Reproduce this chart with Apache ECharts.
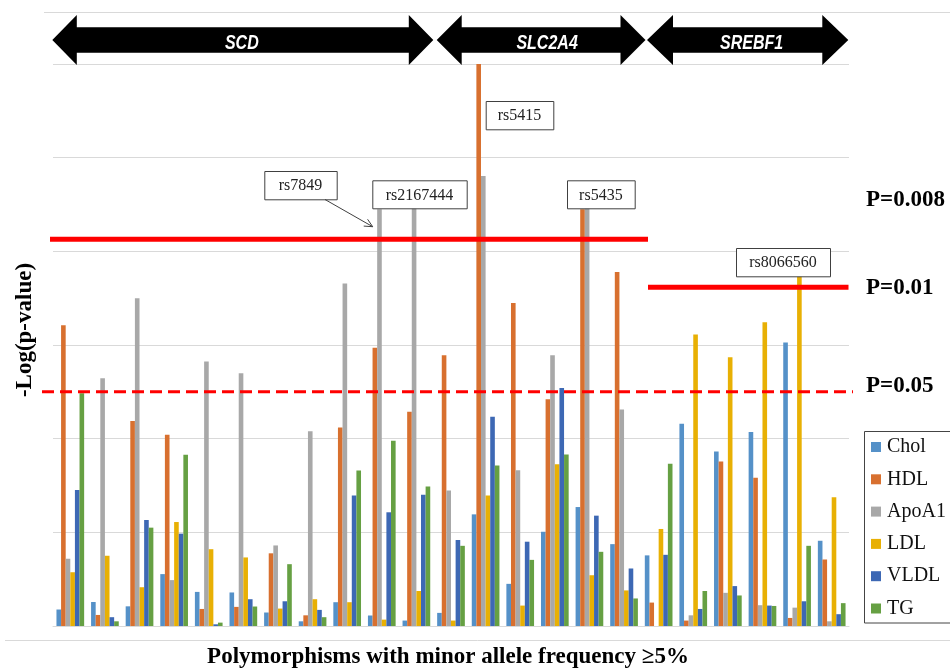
<!DOCTYPE html>
<html><head><meta charset="utf-8">
<script src="https://cdn.jsdelivr.net/npm/echarts@6/dist/echarts.min.js"></script>
<style>html,body{margin:0;padding:0;background:#fff}#c{width:950px;height:671px}</style>
</head><body><div id="c"></div>
<script>
// ---- data (y unit: one gridline = 0.5) ----
const categories = ['SNP1','SNP2','SNP3','SNP4','SNP5','SNP6','SNP7','SNP8','SNP9','rs7849','rs2167444','SNP12','rs5415','SNP14','SNP15','rs5435','SNP17','SNP18','SNP19','SNP20','SNP21','rs8066560','SNP23'];
const seriesNames = ['Chol','HDL','ApoA1','LDL','VLDL','TG'];
const chol  = [0.088,0.128,0.105,0.277,0.182,0.179,0.072,0.025,0.127,0.056,0.029,0.070,0.596,0.225,0.503,0.635,0.437,0.377,1.080,0.932,1.035,1.513,0.455];
const hdl   = [1.606,0.059,1.094,1.021,0.091,0.102,0.388,0.057,1.060,1.485,1.144,1.445,3.000,1.724,1.210,2.225,1.890,0.125,0.029,0.878,0.792,0.043,0.355];
const apoa1 = [0.359,1.322,1.749,0.245,1.412,1.349,0.430,1.039,1.828,2.225,2.232,0.723,2.402,0.832,1.445,2.232,1.156,0.000,0.057,0.177,0.111,0.098,0.025];
const ldl   = [0.287,0.375,0.207,0.555,0.410,0.366,0.093,0.143,0.127,0.034,0.187,0.029,0.696,0.109,0.864,0.271,0.190,0.518,1.556,1.435,1.622,1.872,0.687];
const vldl  = [0.726,0.047,0.566,0.493,0.009,0.143,0.132,0.086,0.696,0.607,0.700,0.459,1.117,0.450,1.271,0.589,0.307,0.380,0.091,0.213,0.109,0.132,0.063];
const tg    = [1.242,0.025,0.525,0.914,0.018,0.104,0.330,0.047,0.830,0.989,0.744,0.428,0.857,0.353,0.915,0.396,0.147,0.866,0.187,0.163,0.107,0.428,0.122];
const thresholdLabels = ['P=0.008','P=0.01','P=0.05'];
const thresholdValues = [2.065, 1.808, 1.251];
const genes = ['SCD','SLC2A4','SREBF1'];
const annotations = ['rs5415','rs7849','rs2167444','rs5435','rs8066560'];

// ---- styles / layout ----
const colors = ['#5591C8','#D8702F','#A8A8A8','#E8B004','#3D68B4','#66A043'];
const serif = '"Liberation Serif","Times New Roman",serif';
const allSeries = [chol,hdl,apoa1,ldl,vldl,tg];

const chart = echarts.init(document.getElementById('c'), null, {renderer:'canvas'});
chart.setOption({
  animation:false,
  backgroundColor:'#fff',
  color: colors,
  grid:{left:53, right:101, top:64, bottom:45, containLabel:false},
  legend:{
    orient:'vertical', left:864, top:431, padding:[6,4,6,7],
    itemWidth:10, itemHeight:10, itemGap:12.3, icon:'rect',
    borderWidth:0, backgroundColor:'transparent',
    textStyle:{fontFamily:serif, fontSize:20, color:'#111', padding:[0,0,0,1]},
    data: seriesNames
  },
  xAxis:{type:'category', data:categories, axisLabel:{show:false}, axisTick:{show:false},
    axisLine:{show:true, lineStyle:{color:'#d9d9d9', width:1}}, splitLine:{show:false}},
  yAxis:{type:'value', min:0, max:3, interval:0.5, axisLabel:{show:false}, axisTick:{show:false},
    axisLine:{show:false}, splitLine:{show:true, lineStyle:{color:'#d9d9d9', width:1}}},
  series: seriesNames.map((n,i)=>({name:n, type:'bar', data:allSeries[i], barGap:'0%', barCategoryGap:'20%', z:2}))
});

// ---- decorations ----
const g = [];
// frame lines
g.push({type:'line', shape:{x1:44,y1:12.5,x2:950,y2:12.5}, style:{stroke:'#d9d9d9', lineWidth:1}, z:1});
g.push({type:'line', shape:{x1:5,y1:640.5,x2:950,y2:640.5}, style:{stroke:'#d9d9d9', lineWidth:1}, z:1});
// legend frame (runs past the right edge, as in the reference)
g.push({type:'rect', shape:{x:864.5,y:431.5,width:110,height:191.5}, style:{fill:'none', stroke:'#444', lineWidth:1}, z:5});

// gene arrows
const geneSpans = [[52.3,433.3,24.5],[436.7,645.5,25],[647,848.3,26]];
const geneTextDx = [-1, 6, 4];
const cy = 40, hh = 25, sh = 12.7;
genes.forEach((name,i)=>{
  const [L,R,h] = geneSpans[i];
  g.push({type:'polygon', shape:{points:[[L,cy],[L+h,cy-hh],[L+h,cy-sh],[R-h,cy-sh],[R-h,cy-hh],[R,cy],[R-h,cy+hh],[R-h,cy+sh],[L+h,cy+sh],[L+h,cy+hh]]},
    style:{fill:'#000'}, z:10});
  g.push({type:'text', x:(L+R)/2+geneTextDx[i], y:cy+3, scaleY:1.28,
    style:{text:name, fill:'#fff', align:'center', verticalAlign:'middle',
    font:'italic bold 16px "Liberation Sans",Arial,sans-serif'}, z:11});
});

// threshold lines
const thrX = [[50,648],[648,848.5],[42,853]];
const thrLabelY = [200, 288, 386];
thresholdValues.forEach((v,i)=>{
  const y = chart.convertToPixel({yAxisIndex:0}, v);
  const dashed = i===2;
  g.push({type:'line', shape:{x1:thrX[i][0], y1:y, x2:thrX[i][1], y2:y},
    style:{stroke:'#FF0000', lineWidth: dashed?3:5, lineDash: dashed?[12,6]:null}, z:20});
  g.push({type:'text', x:866, y:thrLabelY[i], style:{text:thresholdLabels[i], fill:'#000', align:'left', verticalAlign:'middle',
    font:'bold 23px '+serif}, z:20});
});

// annotation boxes
const boxes = [[485.7,101,67.6,28.3],[264.3,171,72.4,28.3],[372.3,180.3,94.4,28],[567,180.3,67.7,28],[736,248,94,28.3]];
annotations.forEach((t,i)=>{
  const [x,y,w,hgt] = boxes[i];
  g.push({type:'rect', shape:{x:x+0.5,y:y+0.5,width:w,height:hgt}, style:{fill:'#fff', stroke:'#404040', lineWidth:1}, z:30});
  g.push({type:'text', x:x+w/2, y:y+hgt/2+1, style:{text:t, fill:'#222', align:'center', verticalAlign:'middle', font:'16px '+serif}, z:31});
});
// arrow from rs7849 box
const ax1=325, ay1=199.5, ax2=372.7, ay2=226.7;
const ang = Math.atan2(ay2-ay1, ax2-ax1), al = 9, aw = 0.45;
g.push({type:'line', shape:{x1:ax1,y1:ay1,x2:ax2,y2:ay2}, style:{stroke:'#404040', lineWidth:1}, z:30});
g.push({type:'polyline', shape:{points:[[ax2-al*Math.cos(ang-aw), ay2-al*Math.sin(ang-aw)],[ax2,ay2],[ax2-al*Math.cos(ang+aw), ay2-al*Math.sin(ang+aw)]]},
  style:{stroke:'#404040', lineWidth:1, fill:null}, z:30});

// axis titles
g.push({type:'text', x:25, y:330, rotation:Math.PI/2, style:{text:'-Log(p-value)', fill:'#000', align:'center', verticalAlign:'middle', font:'bold 23px '+serif}, z:20});
g.push({type:'text', x:448, y:657, style:{text:'Polymorphisms with minor allele frequency \u22655%', fill:'#000', align:'center', verticalAlign:'middle', font:'bold 23px '+serif}, z:20});

chart.setOption({graphic:{elements:g}});
</script></body></html>
